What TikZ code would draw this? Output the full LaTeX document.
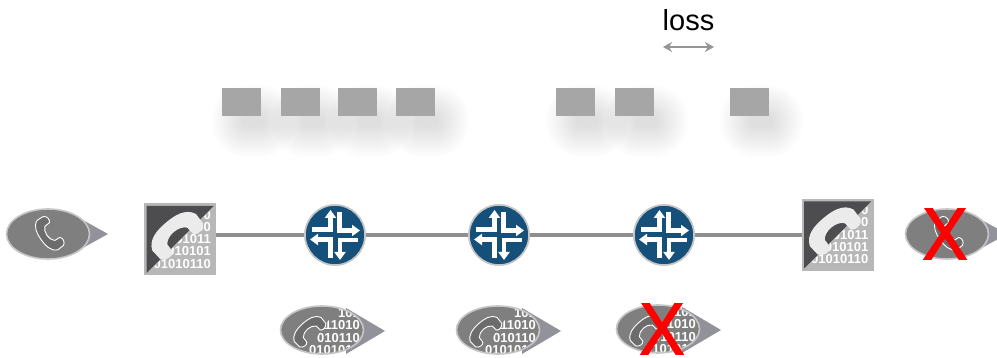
\documentclass[tikz,border=0pt]{standalone}
\usepackage{fontspec}
\setmainfont{Liberation Sans}
\newfontfamily\xfont[FakeBold=2]{Liberation Sans}
\usetikzlibrary{arrows.meta,shapes.geometric}
\definecolor{pktgray}{HTML}{A6A6A6}
\definecolor{linegray}{HTML}{8F8F8F}
\definecolor{bubgray}{HTML}{7F7F7F}
\definecolor{bubrim}{HTML}{C6C6C6}
\definecolor{tipgray}{HTML}{92929A}
\definecolor{routerblue}{HTML}{14507A}
\definecolor{sqdark}{HTML}{4D4D4F}
\definecolor{sqlight}{HTML}{B7B7B7}
\tikzset{
  pkt/.style={fill=pktgray,draw=none,rectangle,minimum width=39pt,minimum height=28pt,inner sep=0pt},
  router/.style={circle,fill=routerblue,draw=bubrim,line width=1.6pt,minimum size=60pt,inner sep=0pt},
  sqicon/.style={rectangle,fill=sqlight,draw=none,minimum width=72pt,minimum height=72pt,inner sep=0pt},
  bubble/.style={ellipse,draw=none,fill=bubgray,inner sep=0pt},
  conn/.style={draw=linegray,line width=3.4pt},
  bits/.style={font=\bfseries\fontsize{#1}{#1}\selectfont,text=white,anchor=east,inner sep=0pt},
  redx/.style={font=\xfont\fontsize{73}{73}\selectfont,text=red,inner sep=0pt,xscale=.92},
  rarrow/.style={draw=white,line width=4.2pt,-{Triangle[length=8pt,width=11pt]}},
}
% shadow of a packet
\newcommand\pktshadow[1]{%
  \foreach \r in {22,20,...,-8}{
    \pgfmathsetmacro{\rc}{max(1,\r+12)}
    \fill[black,opacity=.008,rounded corners=\rc pt]
      ({#1+12-\r},{88+19-\r}) rectangle ({#1+12+39+\r},{88+19+28+\r});
  }}
% handset: x y rotation half-length fill outline
\newcommand\handset[6]{%
  \begin{scope}[shift={(#1,#2)},rotate=#3,x=#4pt,y=#4pt]
    \draw[fill=#5,draw=#6,line width=.9pt,line join=round]
      (-1,.1) .. controls (-.85,.48) and (-.4,.54) .. (0,.54)
      .. controls (.4,.54) and (.85,.48) .. (1,.1)
      -- (.98,-.3) .. controls (.88,-.48) and (.62,-.52) .. (.5,-.38)
      -- (.48,-.06) .. controls (.28,.2) and (-.28,.2) .. (-.48,-.06)
      -- (-.5,-.38) .. controls (-.62,-.52) and (-.88,-.48) .. (-.98,-.3) -- cycle;
  \end{scope}}
% router arrows
\newcommand\routerarrows[2]{%
  \begin{scope}[shift={(#1,#2)}]
    \draw[rarrow] (-23,-5.5) -- (-4.5,-5.5) -- (-4.5,-25);
    \draw[rarrow] (4.5,-23) -- (4.5,-4.5) -- (25,-4.5);
    \draw[rarrow] (23,5) -- (5,5) -- (5,25);
    \draw[rarrow] (-4.5,23) -- (-4.5,4.5) -- (-25,4.5);
  \end{scope}}
% square icon: name cx cy
\newcommand\sqicon[3]{%
  \node[sqicon] (#1) at (#2,#3) {};
  \begin{scope}[shift={(#2,#3)}]
    \begin{scope}
      \clip (-36,36) -- (36,-36) -- (36,36) -- cycle;
      \node[bits=13] (#1a) at (31,-24.5) {0};
      \node[bits=13] (#1b) at (31,-12.5) {0100};
      \node[bits=13] (#1c) at (31,0) {01011};
      \node[bits=13] (#1d) at (31,12) {010101};
      \node[bits=13] (#1e) at (31,24.5) {01010110};
    \end{scope}
    \fill[sqdark] (-33.5,-33.5) -- (33.5,-33.5) -- (-33.5,33.5) -- cycle;
  \end{scope}
  \handset{#2-4}{#3-5}{40}{28}{white!92!black}{white!92!black}}
% data bubble: name cx cy, digit rows
\newcommand\databubble[7]{%
  \fill[tipgray] (#2+24,#3-22) -- (#2+63,#3+1) -- (#2+24,#3+24) -- cycle;
  \node[bubble,minimum width=84pt,minimum height=48pt] (#1) at (#2,#3) {};
  \begin{scope}
    \clip (#2,#3) ellipse [x radius=41,y radius=23.5];
    \node[bits=13] (#1a) at (#2+38,#3-17) {#4};
    \node[bits=13] (#1b) at (#2+38,#3-5) {#5};
    \node[bits=13] (#1c) at (#2+38,#3+8) {#6};
    \node[bits=13] (#1d) at (#2+38,#3+20) {#7};
    \fill[bubgray] (#2-45,#3-26) -- (#2+18,#3-26) -- (#2-19,#3+26) -- (#2-45,#3+26) -- cycle;
  \end{scope}
  \draw[bubrim,line width=1.6pt] (#2,#3) ellipse [x radius=41.5,y radius=24];
  \handset{#2-13}{#3+1}{42}{18}{bubgray!85!black}{white}}
% voice bubble: name cx cy
\newcommand\voicebubble[3]{%
  \fill[tipgray] (#2+24,#3-20) -- (#2+60,#3) -- (#2+24,#3+20) -- cycle;
  \node[bubble,minimum width=83pt,minimum height=50pt,draw=bubrim,line width=1.6pt] (#1) at (#2,#3) {};
  \handset{#2+1}{#3}{125}{18}{bubgray!85!black}{white}}
\begin{document}
\begin{tikzpicture}[x=1pt,y=-1pt]
\useasboundingbox (0,0) rectangle (997,358);
\pktshadow{222}\pktshadow{281}\pktshadow{338}\pktshadow{396}\pktshadow{556}\pktshadow{615}\pktshadow{730}
\node[pkt] (p1) at (241.5,102) {};
\node[pkt] (p2) at (300.5,102) {};
\node[pkt] (p3) at (357.5,102) {};
\node[pkt] (p4) at (415.5,102) {};
\node[pkt] (p5) at (575.5,102) {};
\node[pkt] (p6) at (634.5,102) {};
\node[pkt] (p7) at (749.5,102) {};
% loss
\node[font=\fontsize{29}{30}\selectfont,inner sep=0pt] (loss) at (688.5,20) {loss};
\coordinate (la) at (663,47);
\coordinate (lb) at (714,47);
\draw[draw=pktgray!90!black,line width=1.7pt,{Stealth[length=9pt,width=10pt]}-{Stealth[length=9pt,width=10pt]}] (la) -- (lb);
% main row
\node[router] (r1) at (335,235) {};
\node[router] (r2) at (499,235) {};
\node[router] (r3) at (664,235) {};
\coordinate (s1e) at (216,235);
\coordinate (s2w) at (802,235);
\draw[conn] (s1e) -- (r1);
\draw[conn] (r1) -- (r2);
\draw[conn] (r2) -- (r3);
\draw[conn] (r3) -- (s2w);
\node[router] (r1b) at (r1) {};
\node[router] (r2b) at (r2) {};
\node[router] (r3b) at (r3) {};
\routerarrows{335}{235}
\routerarrows{499}{235}
\routerarrows{664}{235}
\sqicon{s1}{180}{239.5}
\sqicon{s2}{837.5}{235}
% voice bubbles
\voicebubble{v1}{48}{234}
\voicebubble{v2}{947}{234}
\node[redx] (x1) at (945,234) {X};
% data bubbles
\databubble{d1}{322}{330}{101}{11010}{010110}{0101010}
\databubble{d2}{498}{330}{101}{11010}{010110}{0101010}
\databubble{d3}{658}{329}{101}{11010}{010110}{0101010}
\node[redx] (x2) at (662,329) {X};
\end{tikzpicture}
\end{document}
